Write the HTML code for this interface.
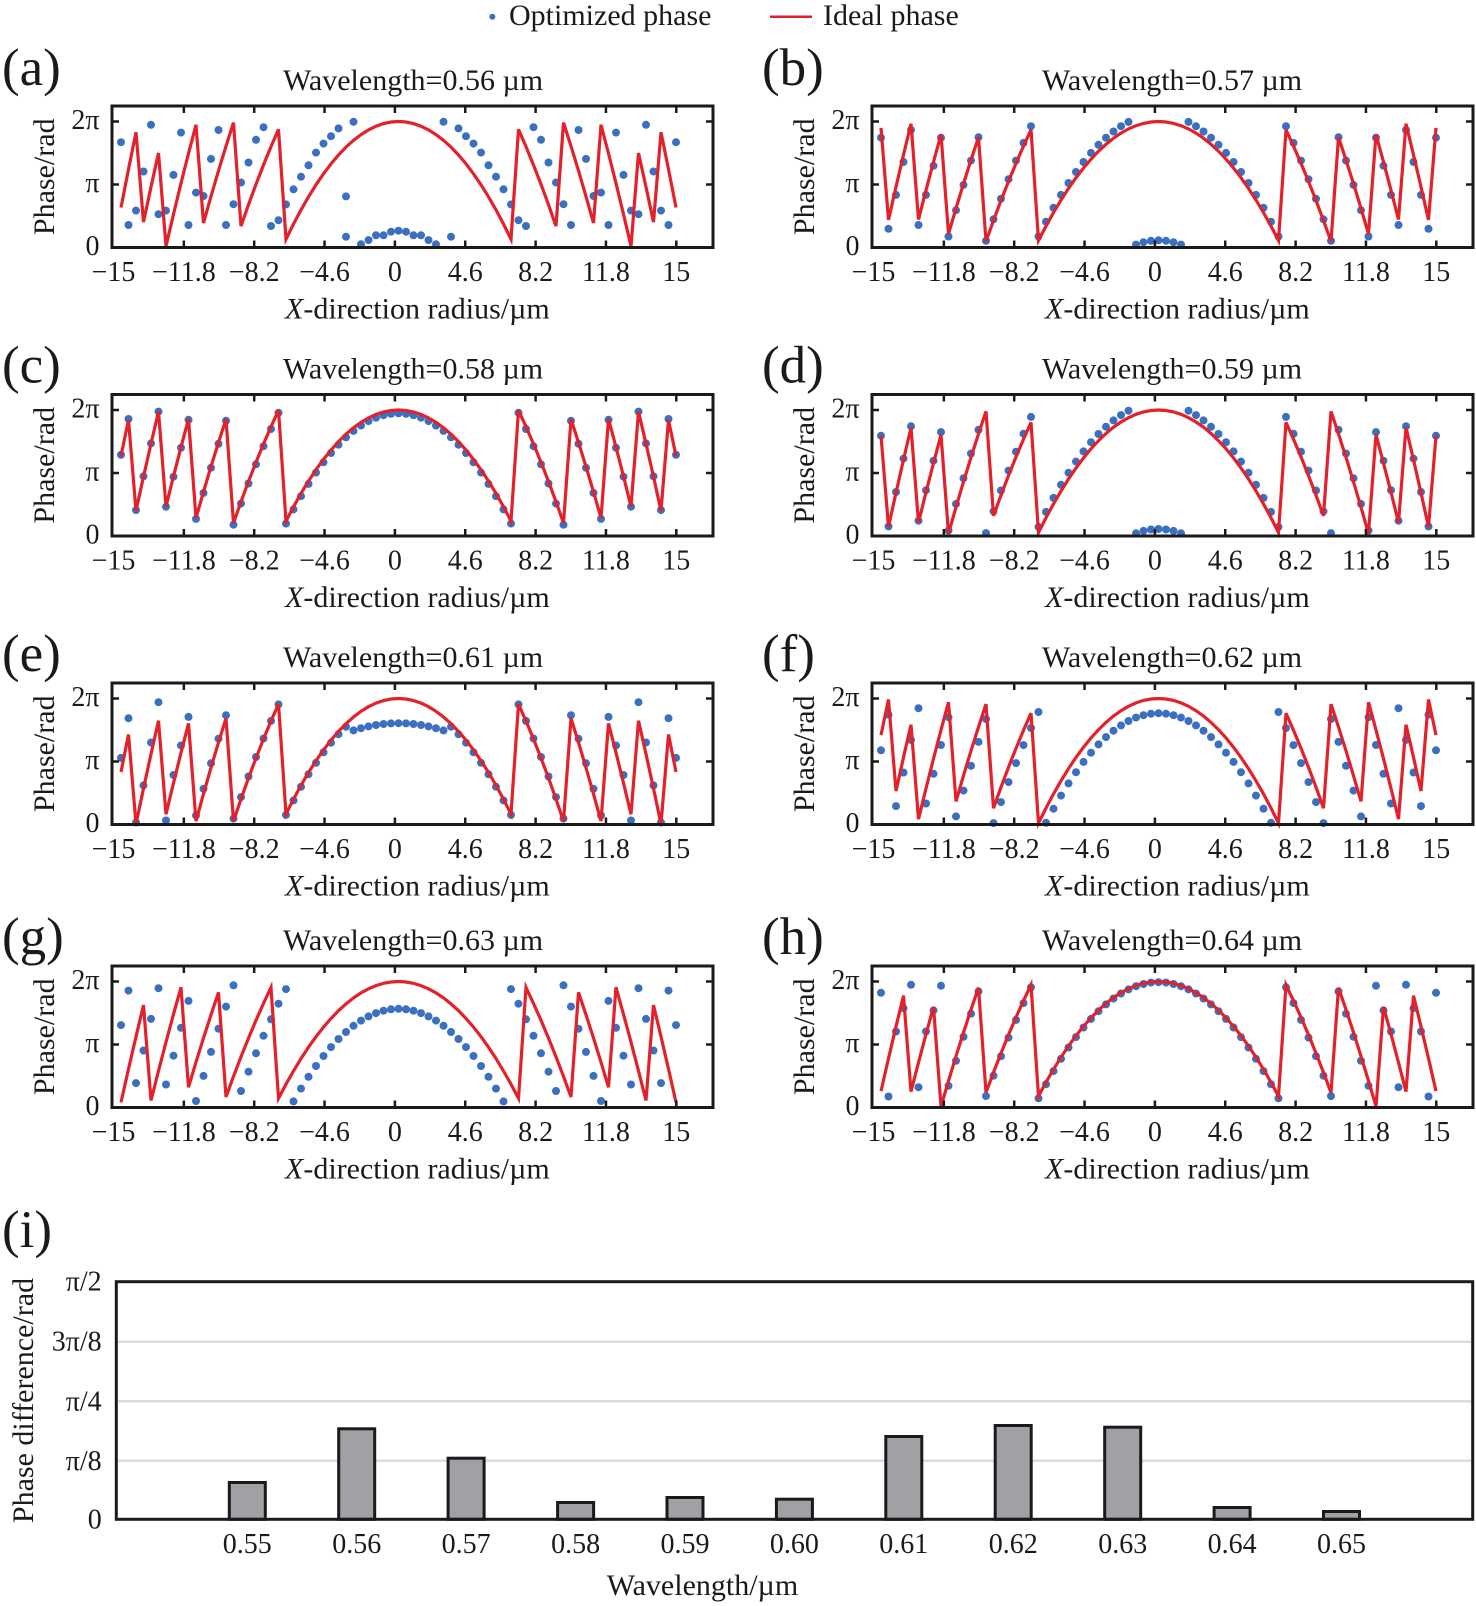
<!DOCTYPE html>
<html><head><meta charset="utf-8">
<style>
html,body{margin:0;padding:0;background:#fff;}
svg{display:block;}
text{font-family:"Liberation Serif","DejaVu Serif",serif;fill:#1a1a1a;}
.t30{font-size:30px}
.tk{font-size:28px}
.lt{font-size:53px}
.fr{fill:none;stroke:#1a1a1a;stroke-width:3}
.tm{fill:none;stroke:#1a1a1a;stroke-width:2.5}
</style></head><body>
<svg width="1476" height="1606" viewBox="0 0 1476 1606">
<g id="data"></g>

<!-- Legend -->
<circle cx="492.3" cy="16.7" r="3" fill="#3b6fc0"/>
<text x="509" y="25" class="t30">Optimized phase</text>
<line x1="770" y1="16.7" x2="812" y2="16.7" stroke="#e3212a" stroke-width="2.5"/>
<text x="823" y="25" class="t30">Ideal phase</text>

<!-- Panel a -->
<g transform="translate(0,106)">
<rect x="112" y="0" width="601" height="141.5" class="fr"/>
<path class="tm" d="M183.85 0v7M254.2 0v7M324.55 0v7M394.9 0v7M465.25 0v7M535.6 0v7M605.95 0v7M676.3 0v7M183.85 141.5v-7M254.2 141.5v-7M324.55 141.5v-7M394.9 141.5v-7M465.25 141.5v-7M535.6 141.5v-7M605.95 141.5v-7M676.3 141.5v-7M112 15.5h7M112 78.5h7M713 15.5h-7M713 78.5h-7"/>
<text x="2" y="-21" class="lt">(a)</text>
<text x="283" y="-16" class="t30">Wavelength=0.56 µm</text>
<text x="99.5" y="23" class="tk" text-anchor="end">2π</text>
<text x="99.5" y="86" class="tk" text-anchor="end">π</text>
<text x="99.5" y="149" class="tk" text-anchor="end">0</text>
<g class="tk" text-anchor="middle">
<text x="113.5" y="175">−15</text><text x="183.85" y="175">−11.8</text><text x="254.2" y="175">−8.2</text><text x="324.55" y="175">−4.6</text><text x="394.9" y="175">0</text><text x="465.25" y="175">4.6</text><text x="535.6" y="175">8.2</text><text x="605.95" y="175">11.8</text><text x="676.3" y="175">15</text>
</g>
<text x="285" y="212.5" class="t30"><tspan font-style="italic">X</tspan>-direction radius/µm</text>
<text transform="translate(54,70.75) rotate(-90)" text-anchor="middle" class="t30">Phase/rad</text>
</g>

<!-- Panel b -->
<g transform="translate(760,106)">
<rect x="112" y="0" width="601" height="141.5" class="fr"/>
<path class="tm" d="M183.85 0v7M254.2 0v7M324.55 0v7M394.9 0v7M465.25 0v7M535.6 0v7M605.95 0v7M676.3 0v7M183.85 141.5v-7M254.2 141.5v-7M324.55 141.5v-7M394.9 141.5v-7M465.25 141.5v-7M535.6 141.5v-7M605.95 141.5v-7M676.3 141.5v-7M112 15.5h7M112 78.5h7M713 15.5h-7M713 78.5h-7"/>
<text x="2" y="-21" class="lt">(b)</text>
<text x="282" y="-16" class="t30">Wavelength=0.57 µm</text>
<text x="99.5" y="23" class="tk" text-anchor="end">2π</text>
<text x="99.5" y="86" class="tk" text-anchor="end">π</text>
<text x="99.5" y="149" class="tk" text-anchor="end">0</text>
<g class="tk" text-anchor="middle">
<text x="113.5" y="175">−15</text><text x="183.85" y="175">−11.8</text><text x="254.2" y="175">−8.2</text><text x="324.55" y="175">−4.6</text><text x="394.9" y="175">0</text><text x="465.25" y="175">4.6</text><text x="535.6" y="175">8.2</text><text x="605.95" y="175">11.8</text><text x="676.3" y="175">15</text>
</g>
<text x="285" y="212.5" class="t30"><tspan font-style="italic">X</tspan>-direction radius/µm</text>
<text transform="translate(54,70.75) rotate(-90)" text-anchor="middle" class="t30">Phase/rad</text>
</g>

<!-- Panel c -->
<g transform="translate(0,394.5)">
<rect x="112" y="0" width="601" height="141.5" class="fr"/>
<path class="tm" d="M183.85 0v7M254.2 0v7M324.55 0v7M394.9 0v7M465.25 0v7M535.6 0v7M605.95 0v7M676.3 0v7M183.85 141.5v-7M254.2 141.5v-7M324.55 141.5v-7M394.9 141.5v-7M465.25 141.5v-7M535.6 141.5v-7M605.95 141.5v-7M676.3 141.5v-7M112 15.5h7M112 78.5h7M713 15.5h-7M713 78.5h-7"/>
<text x="2" y="-12" class="lt">(c)</text>
<text x="283" y="-16" class="t30">Wavelength=0.58 µm</text>
<text x="99.5" y="23" class="tk" text-anchor="end">2π</text>
<text x="99.5" y="86" class="tk" text-anchor="end">π</text>
<text x="99.5" y="149" class="tk" text-anchor="end">0</text>
<g class="tk" text-anchor="middle">
<text x="113.5" y="175">−15</text><text x="183.85" y="175">−11.8</text><text x="254.2" y="175">−8.2</text><text x="324.55" y="175">−4.6</text><text x="394.9" y="175">0</text><text x="465.25" y="175">4.6</text><text x="535.6" y="175">8.2</text><text x="605.95" y="175">11.8</text><text x="676.3" y="175">15</text>
</g>
<text x="285" y="212.5" class="t30"><tspan font-style="italic">X</tspan>-direction radius/µm</text>
<text transform="translate(54,70.75) rotate(-90)" text-anchor="middle" class="t30">Phase/rad</text>
</g>

<!-- Panel d -->
<g transform="translate(760,394.5)">
<rect x="112" y="0" width="601" height="141.5" class="fr"/>
<path class="tm" d="M183.85 0v7M254.2 0v7M324.55 0v7M394.9 0v7M465.25 0v7M535.6 0v7M605.95 0v7M676.3 0v7M183.85 141.5v-7M254.2 141.5v-7M324.55 141.5v-7M394.9 141.5v-7M465.25 141.5v-7M535.6 141.5v-7M605.95 141.5v-7M676.3 141.5v-7M112 15.5h7M112 78.5h7M713 15.5h-7M713 78.5h-7"/>
<text x="2" y="-12" class="lt">(d)</text>
<text x="282" y="-16" class="t30">Wavelength=0.59 µm</text>
<text x="99.5" y="23" class="tk" text-anchor="end">2π</text>
<text x="99.5" y="86" class="tk" text-anchor="end">π</text>
<text x="99.5" y="149" class="tk" text-anchor="end">0</text>
<g class="tk" text-anchor="middle">
<text x="113.5" y="175">−15</text><text x="183.85" y="175">−11.8</text><text x="254.2" y="175">−8.2</text><text x="324.55" y="175">−4.6</text><text x="394.9" y="175">0</text><text x="465.25" y="175">4.6</text><text x="535.6" y="175">8.2</text><text x="605.95" y="175">11.8</text><text x="676.3" y="175">15</text>
</g>
<text x="285" y="212.5" class="t30"><tspan font-style="italic">X</tspan>-direction radius/µm</text>
<text transform="translate(54,70.75) rotate(-90)" text-anchor="middle" class="t30">Phase/rad</text>
</g>

<!-- Panel e -->
<g transform="translate(0,683)">
<rect x="112" y="0" width="601" height="141.5" class="fr"/>
<path class="tm" d="M183.85 0v7M254.2 0v7M324.55 0v7M394.9 0v7M465.25 0v7M535.6 0v7M605.95 0v7M676.3 0v7M183.85 141.5v-7M254.2 141.5v-7M324.55 141.5v-7M394.9 141.5v-7M465.25 141.5v-7M535.6 141.5v-7M605.95 141.5v-7M676.3 141.5v-7M112 15.5h7M112 78.5h7M713 15.5h-7M713 78.5h-7"/>
<text x="2" y="-12" class="lt">(e)</text>
<text x="283" y="-16" class="t30">Wavelength=0.61 µm</text>
<text x="99.5" y="23" class="tk" text-anchor="end">2π</text>
<text x="99.5" y="86" class="tk" text-anchor="end">π</text>
<text x="99.5" y="149" class="tk" text-anchor="end">0</text>
<g class="tk" text-anchor="middle">
<text x="113.5" y="175">−15</text><text x="183.85" y="175">−11.8</text><text x="254.2" y="175">−8.2</text><text x="324.55" y="175">−4.6</text><text x="394.9" y="175">0</text><text x="465.25" y="175">4.6</text><text x="535.6" y="175">8.2</text><text x="605.95" y="175">11.8</text><text x="676.3" y="175">15</text>
</g>
<text x="285" y="212.5" class="t30"><tspan font-style="italic">X</tspan>-direction radius/µm</text>
<text transform="translate(54,70.75) rotate(-90)" text-anchor="middle" class="t30">Phase/rad</text>
</g>

<!-- Panel f -->
<g transform="translate(760,683)">
<rect x="112" y="0" width="601" height="141.5" class="fr"/>
<path class="tm" d="M183.85 0v7M254.2 0v7M324.55 0v7M394.9 0v7M465.25 0v7M535.6 0v7M605.95 0v7M676.3 0v7M183.85 141.5v-7M254.2 141.5v-7M324.55 141.5v-7M394.9 141.5v-7M465.25 141.5v-7M535.6 141.5v-7M605.95 141.5v-7M676.3 141.5v-7M112 15.5h7M112 78.5h7M713 15.5h-7M713 78.5h-7"/>
<text x="2" y="-12" class="lt">(f)</text>
<text x="282" y="-16" class="t30">Wavelength=0.62 µm</text>
<text x="99.5" y="23" class="tk" text-anchor="end">2π</text>
<text x="99.5" y="86" class="tk" text-anchor="end">π</text>
<text x="99.5" y="149" class="tk" text-anchor="end">0</text>
<g class="tk" text-anchor="middle">
<text x="113.5" y="175">−15</text><text x="183.85" y="175">−11.8</text><text x="254.2" y="175">−8.2</text><text x="324.55" y="175">−4.6</text><text x="394.9" y="175">0</text><text x="465.25" y="175">4.6</text><text x="535.6" y="175">8.2</text><text x="605.95" y="175">11.8</text><text x="676.3" y="175">15</text>
</g>
<text x="285" y="212.5" class="t30"><tspan font-style="italic">X</tspan>-direction radius/µm</text>
<text transform="translate(54,70.75) rotate(-90)" text-anchor="middle" class="t30">Phase/rad</text>
</g>

<!-- Panel g -->
<g transform="translate(0,966)">
<rect x="112" y="0" width="601" height="141.5" class="fr"/>
<path class="tm" d="M183.85 0v7M254.2 0v7M324.55 0v7M394.9 0v7M465.25 0v7M535.6 0v7M605.95 0v7M676.3 0v7M183.85 141.5v-7M254.2 141.5v-7M324.55 141.5v-7M394.9 141.5v-7M465.25 141.5v-7M535.6 141.5v-7M605.95 141.5v-7M676.3 141.5v-7M112 15.5h7M112 78.5h7M713 15.5h-7M713 78.5h-7"/>
<text x="2" y="-12" class="lt">(g)</text>
<text x="283" y="-16" class="t30">Wavelength=0.63 µm</text>
<text x="99.5" y="23" class="tk" text-anchor="end">2π</text>
<text x="99.5" y="86" class="tk" text-anchor="end">π</text>
<text x="99.5" y="149" class="tk" text-anchor="end">0</text>
<g class="tk" text-anchor="middle">
<text x="113.5" y="175">−15</text><text x="183.85" y="175">−11.8</text><text x="254.2" y="175">−8.2</text><text x="324.55" y="175">−4.6</text><text x="394.9" y="175">0</text><text x="465.25" y="175">4.6</text><text x="535.6" y="175">8.2</text><text x="605.95" y="175">11.8</text><text x="676.3" y="175">15</text>
</g>
<text x="285" y="212.5" class="t30"><tspan font-style="italic">X</tspan>-direction radius/µm</text>
<text transform="translate(54,70.75) rotate(-90)" text-anchor="middle" class="t30">Phase/rad</text>
</g>

<!-- Panel h -->
<g transform="translate(760,966)">
<rect x="112" y="0" width="601" height="141.5" class="fr"/>
<path class="tm" d="M183.85 0v7M254.2 0v7M324.55 0v7M394.9 0v7M465.25 0v7M535.6 0v7M605.95 0v7M676.3 0v7M183.85 141.5v-7M254.2 141.5v-7M324.55 141.5v-7M394.9 141.5v-7M465.25 141.5v-7M535.6 141.5v-7M605.95 141.5v-7M676.3 141.5v-7M112 15.5h7M112 78.5h7M713 15.5h-7M713 78.5h-7"/>
<text x="2" y="-12" class="lt">(h)</text>
<text x="282" y="-16" class="t30">Wavelength=0.64 µm</text>
<text x="99.5" y="23" class="tk" text-anchor="end">2π</text>
<text x="99.5" y="86" class="tk" text-anchor="end">π</text>
<text x="99.5" y="149" class="tk" text-anchor="end">0</text>
<g class="tk" text-anchor="middle">
<text x="113.5" y="175">−15</text><text x="183.85" y="175">−11.8</text><text x="254.2" y="175">−8.2</text><text x="324.55" y="175">−4.6</text><text x="394.9" y="175">0</text><text x="465.25" y="175">4.6</text><text x="535.6" y="175">8.2</text><text x="605.95" y="175">11.8</text><text x="676.3" y="175">15</text>
</g>
<text x="285" y="212.5" class="t30"><tspan font-style="italic">X</tspan>-direction radius/µm</text>
<text transform="translate(54,70.75) rotate(-90)" text-anchor="middle" class="t30">Phase/rad</text>
</g>

<!-- Panel i : bar chart -->
<text x="2" y="1247" class="lt">(i)</text>
<g stroke="#dcdcdc" stroke-width="2.5">
<line x1="118" y1="1341.7" x2="1471" y2="1341.7"/>
<line x1="118" y1="1401.3" x2="1471" y2="1401.3"/>
<line x1="118" y1="1460.8" x2="1471" y2="1460.8"/>
</g>
<g fill="#a0a1a5" stroke="#1a1a1a" stroke-width="3">
<rect x="229.3" y="1482.5" width="36" height="36.8"/>
<rect x="338.7" y="1428.8" width="36" height="90.5"/>
<rect x="448.1" y="1458.2" width="36" height="61.1"/>
<rect x="557.6" y="1502.5" width="36" height="16.8"/>
<rect x="667.0" y="1497.5" width="36" height="21.8"/>
<rect x="776.4" y="1499.2" width="36" height="20.1"/>
<rect x="885.8" y="1436.5" width="36" height="82.8"/>
<rect x="995.2" y="1425.5" width="36" height="93.8"/>
<rect x="1104.7" y="1427.2" width="36" height="92.1"/>
<rect x="1214.1" y="1507.5" width="36" height="11.8"/>
<rect x="1323.5" y="1511.5" width="36" height="7.8"/>
</g>
<rect x="116.3" y="1281.7" width="1356.4" height="237.6" class="fr"/>
<g class="tk" text-anchor="end">
<text x="101.7" y="1290.7">π/2</text>
<text x="101.7" y="1350.7">3π/8</text>
<text x="101.7" y="1410.3">π/4</text>
<text x="101.7" y="1469.8">π/8</text>
<text x="101.7" y="1528.3">0</text>
</g>
<g class="tk" text-anchor="middle">
<text x="247.3" y="1553">0.55</text>
<text x="356.7" y="1553">0.56</text>
<text x="466.1" y="1553">0.57</text>
<text x="575.6" y="1553">0.58</text>
<text x="685.0" y="1553">0.59</text>
<text x="794.4" y="1553">0.60</text>
<text x="903.8" y="1553">0.61</text>
<text x="1013.2" y="1553">0.62</text>
<text x="1122.7" y="1553">0.63</text>
<text x="1232.1" y="1553">0.64</text>
<text x="1341.5" y="1553">0.65</text>
</g>
<text x="606.7" y="1595" class="t30">Wavelength/µm</text>
<text transform="translate(33,1400.5) rotate(-90)" text-anchor="middle" class="t30">Phase difference/rad</text>
</svg>

<script>
(function(){
var TP=2*Math.PI;
function W(v){v=v%TP;if(v<0)v+=TP;return v;}
var bottoms=[247.5,536,824.5,1107.5];
var A=[5.25,1.12,1.84,3.79,6.12,1.66,1.84,3.62,5.73,1.12,
2.74,2.57,4.42,5.86,1.12,2.16,3.24,4.24,5.37,6.0,
1.07,1.36,2.15,2.9,3.53,4.1,4.73,5.18,5.55,5.94,
0.54,6.27,0.16,0.37,0.61,0.61,0.79,0.84];
var P=[
{c:0,r:0,a:0.02608,ov:A,extra:[[-7,2.55]]},
{c:1,r:0,a:0.02318,dc:0.36,db:0.0238},
{c:0,r:1,a:0.02462,dc:6.12,db:0.02446},
{c:1,r:1,a:0.023886,dc:0.35,db:0.02414},
{c:0,r:2,a:0.025625,dc:6.1,db:0.02498,clip:true,pov:{37:3.32,36:5.3,35:0.1,34:1.95,33:4.09,32:6.1,31:0.2}},
{c:1,r:2,a:0.02428,dc:5.55,db:0.0243},
{c:0,r:3,a:0.02276,dc:4.92,db:0.02354},
{c:1,r:3,a:0.02235,dc:6.25,db:0.02262,pov:{37:5.72,36:0.55,35:3.79,34:4.95,33:6.12,32:1.01,31:3.79,30:4.84}}
];
var s='';
var k=126/TP;
P.forEach(function(p){
  var x0=121+760*p.c, yb=bottoms[p.r];
  var pts=[], dots='';
  for(var i=0;i<75;i++){
    var n=i-37, x=x0+7.5*i, an=Math.abs(n);
    var rv=TP-W(p.a*n*n);
    pts.push(x.toFixed(1)+','+(yb-rv*k).toFixed(1));
    var dv;
    if(p.ov){dv=p.ov[37-an];}
    else if(p.pov&&p.pov[an]!==undefined){dv=p.pov[an];}
    else if(p.clip&&an<=6){dv=5.05-0.01*n*n;}
    else{dv=W(p.dc-p.db*n*n);}
    dots+='<circle cx="'+x.toFixed(1)+'" cy="'+(yb-dv*k).toFixed(1)+'" r="4"></circle>';
  }
  if(p.extra){p.extra.forEach(function(e){
    var x=x0+7.5*(e[0]+37);
    dots+='<circle cx="'+x.toFixed(1)+'" cy="'+(yb-e[1]*k).toFixed(1)+'" r="4"></circle>';
  });}
  s+='<g fill="#3b6fc0">'+dots+'</g>';
  s+='<polyline points="'+pts.join(' ')+'" fill="none" stroke="#e3212a" stroke-width="3.2"></polyline>';
});
document.getElementById('data').innerHTML=s;
})();
</script>
</body></html>
